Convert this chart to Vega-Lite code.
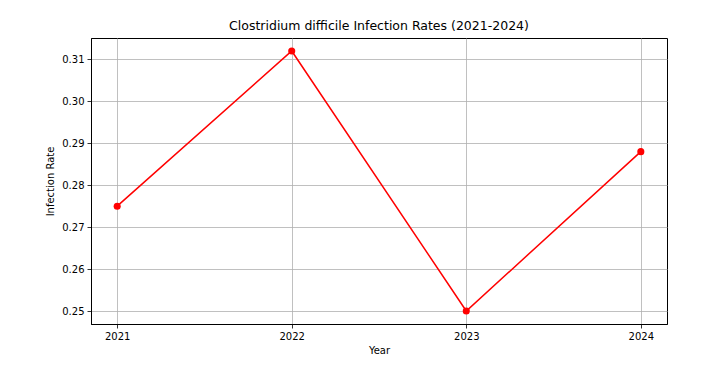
{
  "$schema": "https://vega.github.io/schema/vega-lite/v6.json",
  "width": 576,
  "height": 286,
  "autosize": {"type": "none"},
  "padding": {"left": 91, "top": 38, "right": 37, "bottom": 41},
  "background": "white",
  "title": {"text": "Clostridium difficile Infection Rates (2021-2024)", "font": "DejaVu Sans", "fontSize": 12.5, "fontWeight": "normal", "color": "black", "anchor": "middle", "offset": 6},
  "config": {
    "view": {"stroke": "black", "strokeWidth": 1},
    "axis": {
      "labelFont": "DejaVu Sans", "labelFontSize": 10, "labelColor": "black",
      "titleFont": "DejaVu Sans", "titleFontSize": 10, "titleFontWeight": "normal", "titleColor": "black",
      "domainColor": "black", "domainWidth": 1, "tickColor": "black", "tickSize": 4, "tickWidth": 0.8,
      "gridColor": "#b0b0b0", "gridWidth": 0.8, "labelPadding": 3
    }
  },
  "data": {"values": [
    {"Year": 2021, "Rate": 0.275},
    {"Year": 2022, "Rate": 0.312},
    {"Year": 2023, "Rate": 0.250},
    {"Year": 2024, "Rate": 0.288}
  ]},
  "encoding": {
    "x": {"field": "Year", "type": "quantitative", "scale": {"domain": [2020.85, 2024.15], "nice": false, "zero": false},
      "axis": {"values": [2021, 2022, 2023, 2024], "format": "d", "title": "Year", "titlePadding": 4}},
    "y": {"field": "Rate", "type": "quantitative", "scale": {"domain": [0.2469, 0.3151], "nice": false, "zero": false},
      "axis": {"values": [0.25, 0.26, 0.27, 0.28, 0.29, 0.30, 0.31], "format": ".2f", "title": "Infection Rate", "titlePadding": 6}}
  },
  "layer": [
    {"mark": {"type": "line", "color": "red", "strokeWidth": 1.5}},
    {"mark": {"type": "point", "filled": true, "color": "red", "size": 50, "opacity": 1}}
  ]
}
